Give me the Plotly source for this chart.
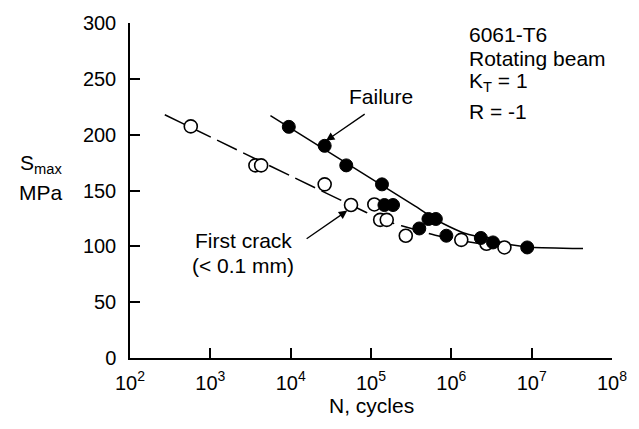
import plotly.graph_objects as go

# Data (N in cycles, S in MPa)
failure_N = [9480, 26500, 49200, 137000, 147000, 188000, 519000, 641000,
             399000, 867000, 2330000, 3300000, 8800000]
failure_S = [207, 190, 172.5, 155.5, 137, 137, 124.5, 124.5, 116, 109.5, 107.5, 103.5, 99]

crack_N = [571, 3640, 4290, 26500, 56400, 110000, 130000, 157000, 271000,
           1330000, 2740000, 4580000]
crack_S = [207.4, 172.5, 172.5, 155.5, 137, 137.5, 123.7, 123.7, 109.5, 105.8, 102.3, 99]

# Fitted curves as drawn in the reference
failure_curve_N = [5600, 355000, 590000, 810000, 1430000, 2510000, 5250000, 10000000, 43600000]
failure_curve_S = [217, 136, 125.5, 120, 112, 107.5, 101.7, 99.2, 98]

crack_curve_N = [271, 56200, 141000, 240000, 631000, 1350000, 2820000, 4570000]
crack_curve_S = [217.8, 137, 123.5, 118.4, 110, 105, 101.3, 99]

x_tickvals = [100, 1000, 10000, 100000, 1000000, 10000000, 100000000]
x_ticktext = ["10<sup>2</sup>", "10<sup>3</sup>", "10<sup>4</sup>", "10<sup>5</sup>",
              "10<sup>6</sup>", "10<sup>7</sup>", "10<sup>8</sup>"]
y_tickvals = [0, 50, 100, 150, 200, 250, 300]

FONT = "Liberation Sans, Arial, Helvetica, sans-serif"
FS = 21      # annotation text
TFS = 20     # tick labels

fig = go.Figure()

fig.add_trace(go.Scatter(x=crack_curve_N, y=crack_curve_S, mode="lines",
                         line=dict(color="black", width=1.5, dash="22px,7px", shape="spline", smoothing=0.5),
                         showlegend=False, hoverinfo="skip"))
fig.add_trace(go.Scatter(x=failure_curve_N, y=failure_curve_S, mode="lines",
                         line=dict(color="black", width=1.5, shape="spline", smoothing=0.5),
                         showlegend=False, hoverinfo="skip"))
fig.add_trace(go.Scatter(x=crack_N, y=crack_S, mode="markers",
                         marker=dict(size=13, color="white", line=dict(color="black", width=1.6)),
                         showlegend=False, name="First crack"))
fig.add_trace(go.Scatter(x=failure_N, y=failure_S, mode="markers",
                         marker=dict(size=13, color="black", line=dict(color="black", width=1)),
                         showlegend=False, name="Failure"))

annots = []
tf = dict(size=FS, family=FONT, color="black")
# Failure label + arrow
annots.append(dict(x=5.12, y=234, xref="x", yref="y", text="Failure", showarrow=False, font=tf))
annots.append(dict(x=4.44, y=194.5, ax=4.94, ay=219.3, xref="x", yref="y", axref="x", ayref="y",
                   text="", showarrow=True, arrowhead=2, arrowsize=1.3, arrowwidth=1.3, arrowcolor="black"))
# First crack label + arrow
annots.append(dict(x=3.411, y=105.5, xref="x", yref="y", text="First crack", showarrow=False, font=tf))
annots.append(dict(x=3.411, y=83, xref="x", yref="y", text="(< 0.1 mm)", showarrow=False, font=tf))
annots.append(dict(x=4.705, y=132, ax=4.18, ay=105.9, xref="x", yref="y", axref="x", ayref="y",
                   text="", showarrow=True, arrowhead=2, arrowsize=1.3, arrowwidth=1.3, arrowcolor="black"))
# Info block
info_lines = ["6061-T6", "Rotating beam", "K<sub>T</sub> = 1", "R = -1"]
info_y = [289.5, 268.5, 247, 221]
for t, yy in zip(info_lines, info_y):
    annots.append(dict(x=6.2, y=yy, xref="x", yref="y", text=t, showarrow=False,
                       xanchor="left", yanchor="middle", font=tf))
# Axis titles
annots.append(dict(x=-0.185, y=0.5786, xref="paper", yref="paper", text="S<sub>max</sub>",
                   showarrow=False, xanchor="center", yanchor="middle", font=tf))
annots.append(dict(x=-0.185, y=0.4926, xref="paper", yref="paper", text="MPa",
                   showarrow=False, xanchor="center", yanchor="middle", font=tf))
annots.append(dict(x=0.5, y=-0.143, xref="paper", yref="paper", text="N, cycles",
                   showarrow=False, xanchor="center", yanchor="middle", font=tf))

fig.update_layout(
    width=639, height=429,
    margin=dict(l=130, r=17, t=21, b=71),
    paper_bgcolor="white", plot_bgcolor="white",
    font=dict(family=FONT, size=TFS, color="black"),
    annotations=annots,
    xaxis=dict(type="log", range=[2, 8], tickvals=x_tickvals, ticktext=x_ticktext,
               showline=True, linecolor="black", linewidth=1.5, ticks="inside", ticklen=10,
               tickwidth=1.5, tickcolor="black", showgrid=False, zeroline=False,
               ticklabelstandoff=6, tickfont=dict(size=TFS, family=FONT, color="black")),
    yaxis=dict(range=[0, 300], tickvals=y_tickvals, showline=True, linecolor="black",
               linewidth=1.5, ticks="inside", ticklen=10, tickwidth=1.5, tickcolor="black",
               showgrid=False, zeroline=False, ticklabelstandoff=8,
               tickfont=dict(size=TFS, family=FONT, color="black")),
)

fig.write_html("out.html")
